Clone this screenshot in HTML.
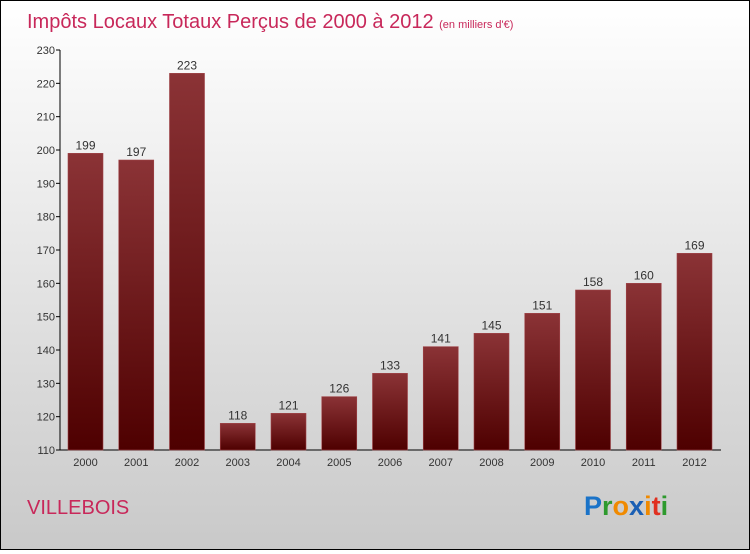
<!DOCTYPE html>
<html><head><meta charset="utf-8"><style>
body{margin:0;width:750px;height:550px;overflow:hidden;font-family:"Liberation Sans",sans-serif}
#c{position:absolute;left:0;top:0;width:748px;height:548px;border:1px solid #000;background:linear-gradient(#ffffff,#f2f2f2 25%,#c9c9c9)}
</style></head><body>
<div id="c">
<svg id="s" width="748" height="548" xmlns="http://www.w3.org/2000/svg">
<defs><linearGradient id="g" x1="0" y1="0" x2="0" y2="1"><stop offset="0" stop-color="#8b3336"/><stop offset="1" stop-color="#4e0000"/></linearGradient></defs>
<text x="26" y="27" font-size="20" fill="#c8285a">Impôts Locaux Totaux Perçus de 2000 à 2012 <tspan font-size="11">(en milliers d'€)</tspan></text>
<text x="26" y="513" font-size="20" fill="#c8285a">VILLEBOIS</text>
<text x="583" y="514" font-size="27" font-weight="bold"><tspan fill="#1a73c8">P</tspan><tspan fill="#2e9a2e">r</tspan><tspan fill="#f08a00">o</tspan><tspan fill="#1a5fb4">x</tspan><tspan fill="#f08a00">i</tspan><tspan fill="#e03020">t</tspan><tspan fill="#2e9a2e">i</tspan></text>
</svg></div>
<script>
const categories=["2000","2001","2002","2003","2004","2005","2006","2007","2008","2009","2010","2011","2012"];
const values=[199,197,223,118,121,126,133,141,145,151,158,160,169];
const yTicks=[110,120,130,140,150,160,170,180,190,200,210,220,230];
const s=document.getElementById('s');const NS="http://www.w3.org/2000/svg";
const yMin=110,yMax=230,top_=49,bot=449,left=59,right=720;
const y=v=>bot-(v-yMin)/(yMax-yMin)*(bot-top_);
const xc=i=>left+25.5+i*50.75;
function mk(t,a){const e=document.createElementNS(NS,t);for(const k in a)e.setAttribute(k,a[k]);s.appendChild(e);return e;}
const ya=mk('line',{x1:left,y1:top_,x2:left,y2:bot,stroke:'#000'});


const xa=mk('line',{x1:left,y1:bot,x2:right,y2:bot,stroke:'#000'});


yTicks.forEach(v=>{
 const tk=mk('line',{x1:left-4,y1:y(v),x2:left,y2:y(v),stroke:'#000'});
 
 
 const t=mk('text',{x:left-5,y:y(v)+4,'font-size':11,fill:'#333','text-anchor':'end'});t.textContent=v;
 
 
});
values.forEach((v,i)=>{
 const r=mk('rect',{x:xc(i)-17.5,y:y(v),width:35,height:bot-y(v),fill:'url(#g)',stroke:'#a04448','stroke-width':0.6});
 
 
 const l=mk('text',{x:xc(i),y:y(v)-4,'font-size':12,fill:'#333','text-anchor':'middle'});l.textContent=v;
 
 
 const c=mk('text',{x:xc(i),y:bot+16,'font-size':11,fill:'#333','text-anchor':'middle'});c.textContent=categories[i];
 
 
});
</script>
</body></html>
